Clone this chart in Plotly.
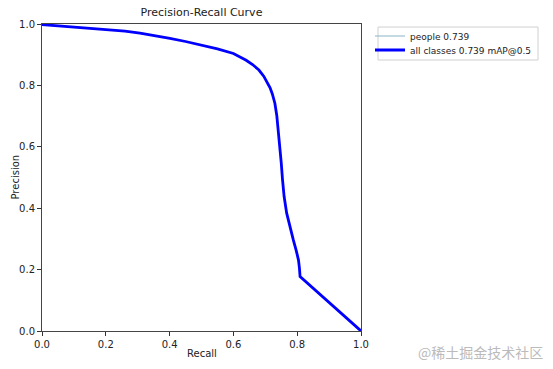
import plotly.graph_objects as go

recall = [0.0, 0.05, 0.1, 0.15, 0.213, 0.26, 0.307, 0.355, 0.401, 0.45, 0.495, 0.55, 0.6, 0.62, 0.64, 0.66,
          0.68, 0.695, 0.705, 0.715, 0.722, 0.73, 0.736, 0.741, 0.746, 0.750, 0.754, 0.759, 0.767, 0.778,
          0.788, 0.797, 0.804, 0.807, 0.809, 1.0]
precision = [0.998, 0.994, 0.990, 0.987, 0.983, 0.977, 0.970, 0.962, 0.953, 0.943, 0.932, 0.919, 0.904, 0.894,
             0.882, 0.868, 0.850, 0.830, 0.812, 0.792, 0.772, 0.742, 0.702, 0.652, 0.600, 0.548, 0.492, 0.438,
             0.384, 0.335, 0.296, 0.262, 0.231, 0.205, 0.177, 0.0]

people_label = "people 0.739"
all_label = "all classes 0.739 mAP@0.5"

x_ticks = [0.0, 0.2, 0.4, 0.6, 0.8, 1.0]
y_ticks = [0.0, 0.2, 0.4, 0.6, 0.8, 1.0]
tick_text = ["0.0", "0.2", "0.4", "0.6", "0.8", "1.0"]

L, R, T, B = 42, 361, 24, 331
W, H = 553, 369
PW, PH = R - L, B - T

def px_x(p):
    return (p - L) / PW

def px_y(p):
    return (B - p) / PH

fig = go.Figure()
fig.add_trace(go.Scatter(x=recall, y=precision, mode="lines", name=people_label, legend="legend",
                         line=dict(color="#8cb4c6", width=1.2)))
fig.add_trace(go.Scatter(x=recall, y=precision, mode="lines", name=all_label, legend="legend2",
                         line=dict(color="#0000ff", width=2.8)))

def axis(ticks):
    return dict(range=[0, 1], showgrid=False, zeroline=False, showline=True, linecolor="#444444",
                linewidth=1, mirror=True, ticks="outside", ticklen=4, tickwidth=1, tickcolor="#333333",
                tickfont=dict(family="DejaVu Sans", size=10, color="#222222"),
                tickmode="array", tickvals=ticks, ticktext=tick_text, automargin=False)

leg_common = dict(xanchor="left", yanchor="middle", borderwidth=0, bgcolor="rgba(0,0,0,0)",
                  font=dict(family="DejaVu Sans", size=9, color="#222222"), itemwidth=30)

fig.update_layout(
    width=W, height=H,
    margin=dict(l=L, r=W - R, t=T, b=H - B, autoexpand=False),
    paper_bgcolor="white", plot_bgcolor="white",
    title=dict(text="Precision-Recall Curve", x=(L + R) / 2 / W, xanchor="center", y=1 - 12 / H,
               yanchor="middle", font=dict(family="DejaVu Sans", size=11, color="#222222")),
    xaxis=axis(x_ticks),
    yaxis=axis(y_ticks),
    legend=dict(leg_common, x=px_x(370), y=px_y(36)),
    legend2=dict(leg_common, x=px_x(370), y=px_y(50)),
    showlegend=True,
)

label_font = dict(family="DejaVu Sans", size=10, color="#222222")
fig.add_annotation(text="Recall", xref="paper", yref="paper", x=0.5, y=px_y(353), xanchor="center",
                   yanchor="middle", showarrow=False, font=label_font)
fig.add_annotation(text="Precision", xref="paper", yref="paper", x=px_x(15), y=0.5, xanchor="center",
                   yanchor="middle", textangle=-90, showarrow=False, font=label_font)

fig.add_shape(type="rect", xref="paper", yref="paper", x0=px_x(378), x1=px_x(538), y0=px_y(60), y1=px_y(27),
              line=dict(color="#d0d0d0", width=1), fillcolor="rgba(0,0,0,0)", layer="below")

fig.add_annotation(text="@稀土掘金技术社区", xref="paper", yref="paper", x=1.0, y=0, xanchor="right",
                   yanchor="middle", xshift=184, yshift=-21, showarrow=False,
                   font=dict(family="Noto Sans CJK SC", size=14, color="#bbbbbb"))

fig.write_html("out.html", config={"displayModeBar": False},
               post_script="document.body.style.margin='0';document.body.style.overflow='hidden';")
